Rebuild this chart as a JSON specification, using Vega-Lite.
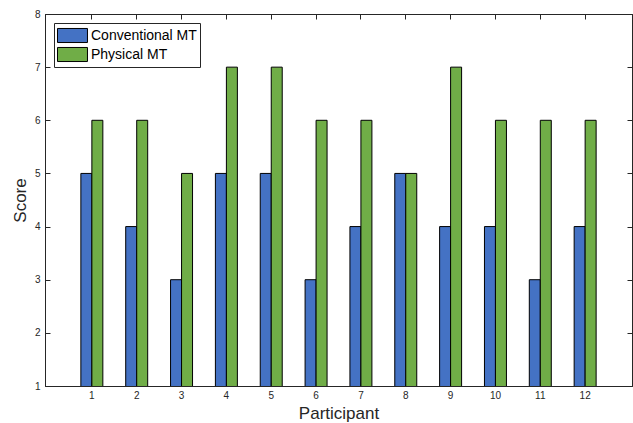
{
  "$schema": "https://vega.github.io/schema/vega-lite/v6.json",
  "autosize": "none",
  "padding": {"left": 45, "top": 14, "right": 1, "bottom": 37},
  "width": 587,
  "height": 372,
  "background": "white",
  "data": {"values": [
    {"participant": "1", "method": "Conventional MT", "score": 5},
    {"participant": "1", "method": "Physical MT", "score": 6},
    {"participant": "2", "method": "Conventional MT", "score": 4},
    {"participant": "2", "method": "Physical MT", "score": 6},
    {"participant": "3", "method": "Conventional MT", "score": 3},
    {"participant": "3", "method": "Physical MT", "score": 5},
    {"participant": "4", "method": "Conventional MT", "score": 5},
    {"participant": "4", "method": "Physical MT", "score": 7},
    {"participant": "5", "method": "Conventional MT", "score": 5},
    {"participant": "5", "method": "Physical MT", "score": 7},
    {"participant": "6", "method": "Conventional MT", "score": 3},
    {"participant": "6", "method": "Physical MT", "score": 6},
    {"participant": "7", "method": "Conventional MT", "score": 4},
    {"participant": "7", "method": "Physical MT", "score": 6},
    {"participant": "8", "method": "Conventional MT", "score": 5},
    {"participant": "8", "method": "Physical MT", "score": 5},
    {"participant": "9", "method": "Conventional MT", "score": 4},
    {"participant": "9", "method": "Physical MT", "score": 7},
    {"participant": "10", "method": "Conventional MT", "score": 4},
    {"participant": "10", "method": "Physical MT", "score": 6},
    {"participant": "11", "method": "Conventional MT", "score": 3},
    {"participant": "11", "method": "Physical MT", "score": 6},
    {"participant": "12", "method": "Conventional MT", "score": 4},
    {"participant": "12", "method": "Physical MT", "score": 6}
  ]},
  "layer": [
    {
      "mark": {"type": "bar", "stroke": "black", "strokeWidth": 1, "clip": true},
      "encoding": {
        "x": {
          "field": "participant", "type": "ordinal", "sort": null,
          "scale": {"paddingInner": 0.51, "paddingOuter": 0.8},
          "axis": {"orient": "bottom", "title": "Participant", "labelAngle": 0, "tickSize": -5, "labelPadding": 9, "titlePadding": 5}
        },
        "xOffset": {"field": "method", "type": "nominal", "scale": {"paddingInner": 0, "paddingOuter": 0}},
        "y": {
          "field": "score", "type": "quantitative",
          "scale": {"domain": [1, 8], "zero": false, "nice": false},
          "axis": {"orient": "left", "title": "Score", "values": [1,2,3,4,5,6,7,8], "tickSize": -5, "labelPadding": 10, "titlePadding": 5}
        },
        "color": {
          "field": "method", "type": "nominal",
          "scale": {"domain": ["Conventional MT", "Physical MT"], "range": ["#4472C4", "#70AD47"]},
          "legend": {
            "title": null, "orient": "none", "legendX": 9, "legendY": 9,
            "padding": 3, "strokeColor": "#262626", "fillColor": "white",
            "symbolType": "M-1,-0.78L2.33,-0.78L2.33,0.78L-1,0.78Z",
            "symbolSize": 324, "symbolStrokeColor": "black", "symbolStrokeWidth": 1,
            "symbolOpacity": 1,
            "labelFont": "Liberation Sans", "labelFontSize": 14, "labelColor": "black",
            "labelOffset": 15, "rowPadding": 0
          }
        }
      }
    },
    {
      "mark": {"type": "bar", "opacity": 0},
      "encoding": {
        "x": {
          "field": "participant", "type": "ordinal", "sort": null,
          "axis": {"orient": "top", "title": null, "labels": false, "tickSize": -5, "domain": true}
        },
        "y": {
          "field": "score", "type": "quantitative",
          "axis": {"orient": "right", "title": null, "labels": false, "values": [1,2,3,4,5,6,7,8], "tickSize": -5}
        }
      }
    }
  ],
  "resolve": {"axis": {"x": "independent", "y": "independent"}},
  "config": {
    "view": {"stroke": "#262626", "strokeWidth": 1},
    "axis": {
      "grid": false,
      "labelFont": "Liberation Sans", "labelFontSize": 10, "labelColor": "#262626",
      "titleFont": "Liberation Sans", "titleFontSize": 17, "titleFontWeight": "normal", "titleColor": "#262626",
      "domainColor": "#262626", "tickColor": "#262626", "domainWidth": 1, "tickWidth": 1
    }
  }
}
